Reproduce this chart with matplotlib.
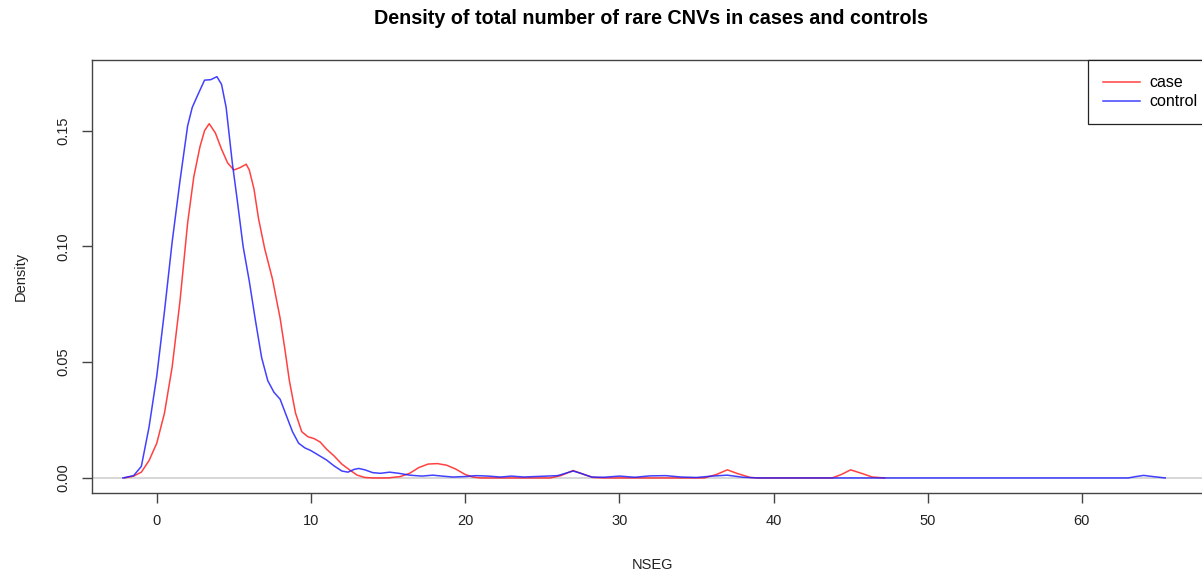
import matplotlib
matplotlib.use('Agg')
import matplotlib.pyplot as plt

# density of NSEG in cases
case_x = [-2.1, -1.5, -1.0, -0.5, 0.0, 0.5, 1.0, 1.5, 2.0, 2.4, 2.8, 3.1, 3.4,
          3.8, 4.2, 4.6, 5.0, 5.4, 5.8, 6.0, 6.3, 6.6, 7.0, 7.5, 8.0, 8.3, 8.6,
          9.0, 9.4, 9.8, 10.2, 10.6, 11.0, 11.5, 12.0, 12.5, 13.0, 13.5, 14.0,
          15.0, 15.8, 16.4, 17.0, 17.6, 18.2, 18.8, 19.4, 20.0, 20.5, 21.0,
          25.5, 26.2, 27.0, 27.7, 28.3, 29.0, 35.5, 36.3, 37.0, 37.7, 38.5,
          39.0, 43.8, 44.4, 45.0, 45.7, 46.4, 47.2]
case_y = [0.0, 0.0008, 0.0025, 0.0075, 0.015, 0.028, 0.048, 0.076, 0.110, 0.130,
          0.143, 0.150, 0.153, 0.149, 0.142, 0.136, 0.133, 0.134, 0.1355, 0.133,
          0.125, 0.112, 0.099, 0.086, 0.069, 0.056, 0.042, 0.028, 0.020, 0.0178,
          0.017, 0.0155, 0.0125, 0.0095, 0.006, 0.0035, 0.0012, 0.0002, 0.0,
          0.0, 0.0006, 0.002, 0.0045, 0.006, 0.0062, 0.0055, 0.0038, 0.0015,
          0.0004, 0.0, 0.0, 0.001, 0.0032, 0.0015, 0.0002, 0.0, 0.0, 0.0015,
          0.0035, 0.0018, 0.0002, 0.0, 0.0, 0.0015, 0.0035, 0.002, 0.0004, 0.0]

# density of NSEG in controls
ctrl_x = [-2.2, -1.5, -1.0, -0.5, 0.0, 0.5, 1.0, 1.5, 2.0, 2.3, 2.7, 3.1, 3.5,
          3.9, 4.2, 4.5, 4.9, 5.2, 5.6, 6.0, 6.4, 6.8, 7.2, 7.6, 8.0, 8.4, 8.8,
          9.2, 9.6, 10.0, 10.5, 11.0, 11.5, 12.0, 12.4, 12.8, 13.1, 13.5, 14.0,
          14.5, 15.1, 15.7, 16.4, 17.2, 17.9, 18.5, 19.2, 20.0, 20.7, 21.5,
          22.3, 23.0, 23.8, 24.5, 25.3, 26.0, 26.5, 27.0, 27.5, 28.2, 29.0,
          30.0, 31.0, 32.0, 33.0, 34.0, 35.0, 36.0, 37.0, 38.0, 39.0, 63.0,
          63.5, 64.0, 64.6, 65.4]
ctrl_y = [0.0, 0.001, 0.005, 0.022, 0.044, 0.072, 0.102, 0.128, 0.152, 0.160,
          0.166, 0.1718, 0.172, 0.1733, 0.170, 0.160, 0.136, 0.121, 0.100, 0.085,
          0.068, 0.052, 0.042, 0.037, 0.034, 0.027, 0.020, 0.015, 0.013, 0.0118,
          0.0098, 0.0078, 0.0052, 0.003, 0.0025, 0.0037, 0.0041, 0.0035, 0.0023,
          0.002, 0.0025, 0.002, 0.0012, 0.0008, 0.0012, 0.0008, 0.0004, 0.0006,
          0.001, 0.0008, 0.0004, 0.0008, 0.0004, 0.0006, 0.0008, 0.001, 0.002,
          0.003, 0.002, 0.0004, 0.0003, 0.0008, 0.0003, 0.0009, 0.001, 0.0004,
          0.0002, 0.0008, 0.0012, 0.0003, 0.0, 0.0, 0.0006, 0.0011, 0.0006, 0.0]

xticks = [0, 10, 20, 30, 40, 50, 60]
yticks = [0.00, 0.05, 0.10, 0.15]

plt.rcParams['font.family'] = ['Liberation Sans', 'DejaVu Sans']

fig = plt.figure(figsize=(12.02, 5.75), dpi=100)
# right edge of the frame sits just past the image border, like the original
ax = fig.add_axes([92 / 1202, 1 - 493 / 575, 1121 / 1202, 433 / 575])

ax.axhline(0, color='#d4d4d4', lw=1.3, zorder=1)
ax.plot(case_x, case_y, color='#ff2020', lw=1.1, alpha=0.85, label='case')
ax.plot(ctrl_x, ctrl_y, color='#2020ff', lw=1.1, alpha=0.85, label='control')

ax.set_xlim(-4.2, 68.5)
ax.set_ylim(-0.0065, 0.1805)
ax.set_xticks(xticks)
ax.set_xticklabels([str(t) for t in xticks])
ax.set_yticks(yticks)
ax.set_yticklabels(['%.2f' % t for t in yticks], rotation=90, va='center')

for s in ax.spines.values():
    s.set_color('#444444')
    s.set_linewidth(1.0)
ax.tick_params(length=7, width=1.0, color='#444444', labelsize=10.5,
               labelcolor='#222222')
ax.tick_params(axis='x', pad=8)
ax.tick_params(axis='y', pad=8.5)

ax.set_xlabel('NSEG', fontsize=10.5, color='#222222', labelpad=22)
ax.set_ylabel('Density', fontsize=10.5, color='#222222', labelpad=21)
fig.text(0.5415, 1 - 19 / 575, 'Density of total number of rare CNVs in cases and controls',
         ha='center', va='center', fontsize=14.2, fontweight='bold')

leg = ax.legend(loc='upper right', borderaxespad=0, fancybox=False,
                edgecolor='#222222', fontsize=11.5, handlelength=2.3,
                handletextpad=0.6, labelspacing=0.25, borderpad=0.95,
                framealpha=1)
leg.get_frame().set_linewidth(0.9)

fig.savefig('out.png', dpi=100)
